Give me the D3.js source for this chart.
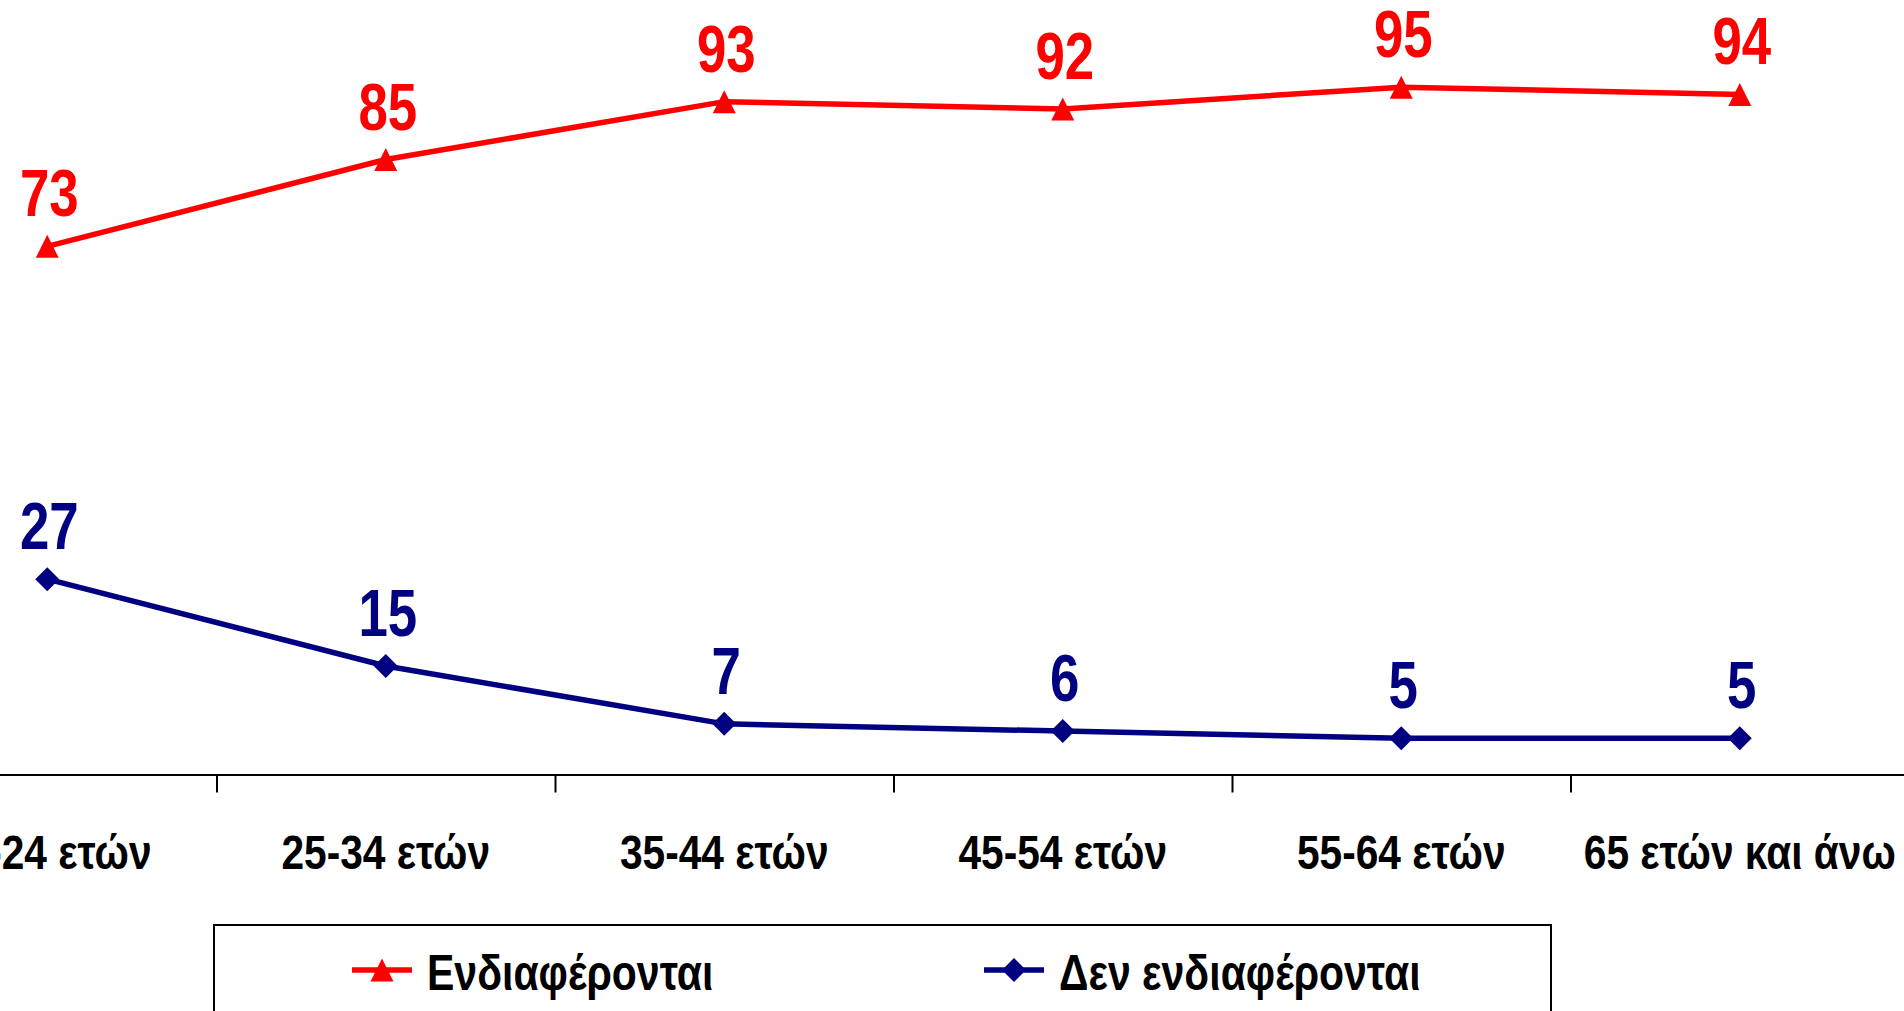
<!DOCTYPE html>
<html>
<head>
<meta charset="utf-8">
<script src="https://cdn.jsdelivr.net/npm/d3@7"></script>
<style>
  body { margin: 0; background: #ffffff; overflow: hidden; }
  text { font-family: "Liberation Sans", Arial, sans-serif; font-weight: bold; }
</style>
</head>
<body>
<script>
// data
var categories = ["18-24 ετών", "25-34 ετών", "35-44 ετών", "45-54 ετών", "55-64 ετών", "65 ετών και άνω"];
var interested = [73, 85, 93, 92, 95, 94];
var notInterested = [27, 15, 7, 6, 5, 5];
var seriesNames = ["Ενδιαφέρονται", "Δεν ενδιαφέρονται"];

var screen = { width: 1904, height: 1011 };
var narrow = "scale(0.82,1)"; // arial narrow look

var svg = d3.select("body")
            .append("svg")
            .attr("width", screen.width)
            .attr("height", screen.height);

var xScale = d3.scaleBand()
               .domain(categories)
               .range([-122, 1909]);

var yScale = d3.scaleLinear()
               .domain([0, 100])
               .range([774.5, 51]);

var cx = function(d, i) { return xScale(categories[i]) + xScale.bandwidth() / 2; };

// x axis with labels
var xAxis = d3.axisBottom(xScale)
              .tickSize(0)
              .tickSizeOuter(0)
              .tickPadding(60);

var axisG = svg.append("g")
               .attr("class", "xAxis")
               .attr("transform", "translate(0," + yScale(0) + ")")
               .call(xAxis);

axisG.select(".domain")
     .attr("stroke", "#000")
     .attr("stroke-width", 2);

axisG.selectAll("text")
     .attr("fill", "#000")
     .attr("font-size", 49)
     .attr("font-family", "Liberation Sans, Arial, sans-serif")
     .attr("font-weight", "bold")
     .attr("transform", "scale(0.83,1)");

// boundary ticks between categories
axisG.selectAll(".sep")
     .data(categories.slice(1))
     .enter()
     .append("line")
     .attr("class", "sep")
     .attr("x1", function(d) { return xScale(d) + 0.5; })
     .attr("x2", function(d) { return xScale(d) + 0.5; })
     .attr("y1", 0)
     .attr("y2", 18)
     .attr("stroke", "#000")
     .attr("stroke-width", 2);

var triangle = "M0,-11.5L11.5,11.5L-11.5,11.5Z";
var diamond = "M0,-12L12,0L0,12L-12,0Z";

var series = [
  { name: seriesNames[0], values: interested, color: "#ff0000", marker: triangle },
  { name: seriesNames[1], values: notInterested, color: "#000080", marker: diamond }
];

var drawLine = d3.line()
                 .x(cx)
                 .y(function(d) { return yScale(d); });

series.forEach(function(s) {
  var g = svg.append("g").attr("class", "series");

  g.append("path")
   .datum(s.values)
   .attr("d", drawLine)
   .attr("fill", "none")
   .attr("stroke", s.color)
   .attr("stroke-width", 5.5);

  g.selectAll(".marker")
   .data(s.values)
   .enter()
   .append("path")
   .attr("class", "marker")
   .attr("d", s.marker)
   .attr("transform", function(d, i) { return "translate(" + cx(d, i) + "," + yScale(d) + ")"; })
   .attr("fill", s.color);

  g.selectAll(".label")
   .data(s.values)
   .enter()
   .append("g")
   .attr("class", "label")
   .attr("transform", function(d, i) { return "translate(" + (cx(d, i) + 2) + "," + (yScale(d) - 30) + ")"; })
   .append("text")
   .attr("transform", "scale(0.8,1)")
   .attr("text-anchor", "middle")
   .attr("font-size", 66)
   .attr("fill", s.color)
   .text(function(d) { return d; });
});

// legend
var legend = svg.append("g").attr("class", "legend");

legend.append("rect")
      .attr("x", 214)
      .attr("y", 925)
      .attr("width", 1337)
      .attr("height", 200)
      .attr("fill", "#fff")
      .attr("stroke", "#000")
      .attr("stroke-width", 2);

var legendX = [352, 984];

series.forEach(function(s, i) {
  var item = legend.append("g")
                   .attr("transform", "translate(" + legendX[i] + ",970)");
  item.append("line")
      .attr("x1", 0)
      .attr("x2", 60)
      .attr("stroke", s.color)
      .attr("stroke-width", 5.5);
  item.append("path")
      .attr("d", s.marker)
      .attr("transform", "translate(30,0)")
      .attr("fill", s.color);
  item.append("g")
      .attr("transform", "translate(75,20)")
      .append("text")
      .attr("transform", narrow)
      .attr("font-size", 50)
      .attr("fill", "#000")
      .text(s.name);
});
</script>
</body>
</html>
